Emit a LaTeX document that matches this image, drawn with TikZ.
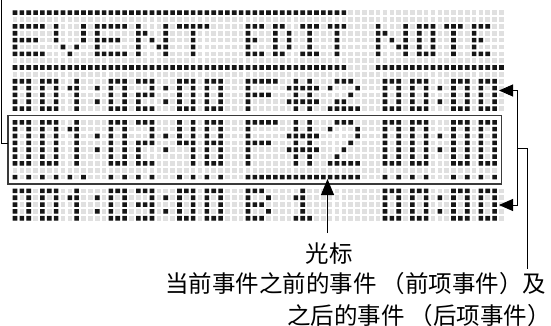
\documentclass[tikz,border=0pt]{standalone}
\usepackage{fontspec}
\newfontfamily\cjk{Noto Sans CJK SC}
\usepackage{xcolor}
\usepackage{tikz}
\usetikzlibrary{arrows.meta, positioning}

\definecolor{dotgrey}{HTML}{E0E0E0}
\definecolor{dotblack}{HTML}{161616}
\definecolor{framegrey}{HTML}{3A3A3A}

% one LCD dot (column, row): added to one path
\gdef\dotpath{}
\newcommand\lcddot[2]{%
  \pgfmathsetmacro\dx{15+6.852*#1-2.3}%
  \pgfmathsetmacro\dy{12.7+6.852*#2-2.3}%
  \xdef\dotpath{\dotpath (\dx,\dy) rectangle ++(4.6,4.6)}}
% a row of bits from a start column
\newcount\lcdcol
\def\lcdbits#1#2#3{\lcdcol=#1\relax\def\lcdrow{#2}\lcdscan#3\relax}
\def\lcdscan#1{%
  \ifx#1\relax\else
    \if#11\lcddot{\the\lcdcol}{\lcdrow}\fi
    \advance\lcdcol by 1\relax
    \expandafter\lcdscan
  \fi}
% one glyph: column, top row, rows
\newcommand\lcdchar[3]{%
  \edef\glyphrows{#3}%
  \foreach \bits [count=\k from 0] in \glyphrows {%
    \pgfmathtruncatemacro\rowno{#2+\k}%
    \edef\lcdtmp{\noexpand\lcdbits{#1}{\rowno}{\bits}}\lcdtmp}}
% a line of glyphs: top row, column/glyph list
\newcommand\lcdline[2]{\foreach \col/\gl in {#2} {\lcdchar{\col}{#1}{\gl}}}

% header glyphs
\def\hE{11111,10000,11110,10000,11111}
\def\hV{10001,10001,10001,01010,00100}
\def\hN{10001,11001,10101,10011,10001}
\def\hT{11111,00100,00100,00100,00100}
\def\sE{111,100,110,100,111}
\def\sD{110,101,101,101,110}
\def\sI{111,010,010,010,111}
\def\sT{111,010,010,010,010}
\def\sO{111,101,101,101,111}
% small digits and note names
\def\gZero{111,101,101,101,111}
\def\gOne{010,110,010,010,010}
\def\gTwo{111,001,111,100,111}
\def\gThree{111,001,111,001,111}
\def\gColon{0,1,0,1,0}
\def\gF{11111,10000,11110,10000,10000}
\def\gSharp{01010,11111,01010,11111,01010}
\def\gTwoN{01110,10001,00010,01100,11111}
\def\gB{1110,1001,1110,1001,1110}
\def\gOneN{010,110,010,010,111}
% big digits and note names
\def\bZero{111,101,101,101,101,101,111}
\def\bOne{010,110,010,010,010,010,010}
\def\bTwo{111,001,001,111,100,100,111}
\def\bFour{101,101,101,111,001,001,001}
\def\bEight{111,101,101,111,101,101,111}
\def\bColon{0,0,1,0,1,0,0}
\def\bF{11111,10000,10000,11110,10000,10000,10000}
\def\bSharp{01010,01010,11111,01010,11111,01010,01010}
\def\bTwoN{01110,10001,00001,00010,00100,01000,11111}

\begin{document}
\begin{tikzpicture}[x=1pt, y=-1pt,
    doton/.style={fill=dotblack},
    dotoff/.style={draw=dotgrey, line width=4.6pt, dash pattern=on 4.6pt off 2.252pt},
    boxline/.style={draw=framegrey, line width=1.4pt},
    leader/.style={draw=black, line width=0.9pt},
    lbl/.style={font=\cjk\fontsize{23.5}{23.5}\selectfont, inner sep=0pt}]
    \useasboundingbox (0,0) rectangle (551,326);
    % Grille de fond
    \foreach \r in {0,...,30}
        \draw[dotoff] ({12.7},{12.7+6.852*\r}) -- ({15+6.852*71+2.3},{12.7+6.852*\r});
    % Barres
    \foreach \c in {0,...,48} {\lcddot{\c}{0}}
    \foreach \c in {0,...,48,53,54,...,71} {\lcddot{\c}{8}}
    % En-tete
    \lcdline{2}{0/\hE, 6/\hV, 12/\hE, 18/\hN, 24/\hT, 34/\sE, 38/\sD, 42/\sI, 46/\sT,
        53/\hN, 59/\sO, 63/\sT, 67/\sE}
    % Evenement precedent
    \lcdline{10}{0/\gZero, 4/\gZero, 8/\gOne, 12/\gColon, 14/\gZero, 18/\gTwo, 22/\gColon,
        24/\gZero, 28/\gZero, 34/\gF, 40/\gSharp, 46/\gTwoN,
        54/\gZero, 58/\gZero, 62/\gColon, 64/\gZero, 68/\gZero}
    % Evenement courant
    \lcdline{16}{0/\bZero, 4/\bZero, 8/\bOne, 12/\bColon, 14/\bZero, 18/\bTwo, 22/\bColon,
        24/\bFour, 28/\bEight, 34/\bF, 40/\bSharp, 46/\bTwoN,
        54/\bZero, 58/\bZero, 62/\bColon, 64/\bZero, 68/\bZero}
    % Curseur
    \foreach \c in {0,2,...,10,14,16,18,20,24,26,28,30,34,35,...,50,54,56,58,60,64,66,68,70}
        {\lcddot{\c}{24}}
    % Evenement suivant
    \lcdline{26}{0/\gZero, 4/\gZero, 8/\gOne, 12/\gColon, 14/\gZero, 18/\gThree, 22/\gColon,
        24/\gZero, 28/\gZero, 34/\gB, 41/\gOneN,
        54/\gZero, 58/\gZero, 62/\gColon, 64/\gZero, 68/\gZero}
    \fill[doton] \dotpath;
    % Cadre
    \coordinate (boxnw) at (8.15,115.5);
    \coordinate (boxse) at (501.5,184);
    \fill[white] (boxnw) ++(-2.5,-2.5) rectangle ++(498.35,5);
    \fill[white] (boxse) ++(-495.85,-2.5) rectangle ++(498.35,5);
    \fill[white] (boxse) ++(-2.5,-71) rectangle ++(5,73.5);
    \draw[boxline] (boxnw) rectangle (boxse);
    % Renvois
    \coordinate (leadtop) at (1.7,0);
    \coordinate (boxwest) at (8.15,143.3);
    \draw[leader] (leadtop) |- (boxwest);
    \coordinate (prevtip) at (499,90.5);
    \coordinate (nexttip) at (499,205);
    \coordinate (brace) at (517.5,148.5);
    \draw[leader, {Triangle[length=14pt, width=12pt]}-{Triangle[length=14pt, width=12pt]}]
        (prevtip) -- (prevtip -| brace) -- (nexttip -| brace) -- (nexttip);
    % Textes
    \node[lbl, anchor=base] (cursorlbl) at (329,262.6) {光标};
    \node[lbl, anchor=base west] (eventlbl) at (165,292.6) {当前事件之前的事件 （前项事件）及};
    \node[lbl, anchor=base west] (eventlbl2) at (287,324.3) {之后的事件 （后项事件）};
    \coordinate (cursortip) at (327.5,179);
    \coordinate (cursorfoot) at (327.5,233);
    \draw[leader, -{Triangle[length=16pt, width=13pt]}] (cursorfoot) -- (cursortip);
    \coordinate (eventtop) at (527.5,269);
    \draw[leader] (brace) -| (eventtop);
\end{tikzpicture}
\end{document}
